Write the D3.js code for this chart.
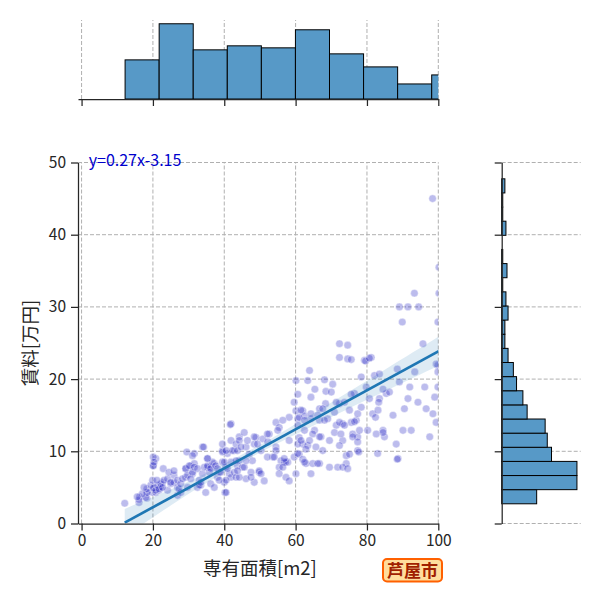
<!DOCTYPE html>
<html lang="ja">
<head>
<meta charset="UTF-8">
<title>芦屋市 専有面積と賃料</title>
<script src="https://cdnjs.cloudflare.com/ajax/libs/d3/7.8.5/d3.min.js"></script>
<style>
    body { margin: 0; background: #fff; }
    svg { font-family: "Noto Sans CJK JP", "Noto Sans", sans-serif; }
</style>
</head>
<body>
<svg width="600" height="600"></svg>
<script>
    // ---- data ----
    const xTicks = [0, 20, 40, 60, 80, 100];
    const yTicks = [0, 10, 20, 30, 40, 50];

    // marginal histogram of 専有面積 (counts per bin)
    const areaEdges = [12.2, 21.75, 31.3, 40.85, 50.4, 59.95, 69.5, 79.05, 88.6, 98.15, 107.7];
    const areaCounts = [39, 75, 49, 53, 51, 69, 45, 32, 15, 24];

    // marginal histogram of 賃料, bins bottom -> top
    const rentStart = 2.73, rentWidth = 1.957;
    const rentCounts = [33, 71, 71, 47, 43, 41, 24, 20, 14, 11, 6, 3, 3, 6, 4, 1, 5, 1, 0, 4, 1, 1, 3];

    // regression y = 0.27x - 3.15 and its confidence band half width
    const slope = 0.27, intercept = -3.15;
    const fitRange = [12.1, 107.7];
    const bandX = [12.1, 25, 35, 45, 55, 70, 85, 100, 107.7];
    const bandHalf = [1.9, 1.1, 0.7, 0.55, 0.6, 1.0, 1.5, 2.0, 2.3];

    // [専有面積, 賃料]
    const points = [
        [12.1,2.8],[16.1,2.9],[16.3,3.7],[18.3,3.5],[18.3,4.3],[19.9,4.3],[20.3,5.0],[20.8,4.3],[21.7,4.6],[22.2,5.0],
        [22.7,5.7],[20.1,8.0],[20.8,9.0],[24.1,4.6],[25.0,5.5],[25.9,5.7],[26.9,5.0],[26.9,3.9],[27.8,4.3],[29.2,6.4],
        [29.2,7.6],[29.7,5.0],[30.6,8.0],[31.1,6.9],[31.6,8.3],[31.6,9.7],[32.5,5.0],[33.0,6.0],[33.4,5.3],[33.9,10.6],
        [34.8,4.3],[35.3,7.8],[35.3,9.0],[36.2,7.8],[36.2,5.5],[37.2,8.3],[38.1,6.4],[38.6,7.1],[39.5,8.5],[40.0,5.7],
        [40.2,4.3],[39.5,10.1],[40.4,7.8],[40.9,9.7],[41.4,6.9],[41.9,13.8],[41.9,6.4],[42.8,10.1],
        [16.1,3.3],[18.0,3.6],[18.4,4.3],[18.3,4.8],[19.4,5.3],[20.1,4.9],[20.8,4.6],[21.3,5.3],[21.7,4.8],[22.2,5.5],
        [22.7,5.0],[23.1,6.0],[24.1,6.2],[25.0,5.7],[25.9,6.7],[26.9,6.0],[27.3,4.8],[27.8,5.5],[28.3,6.2],[29.2,7.6],
        [29.7,6.7],[30.6,6.2],[30.2,8.0],[31.1,7.1],[31.6,7.8],[32.5,7.6],[33.0,5.3],[33.4,5.7],[33.9,6.9],[34.4,7.8],
        [35.3,8.0],[35.8,7.1],[36.2,7.6],[36.7,8.5],[37.2,5.0],[37.6,8.0],[38.1,7.6],[38.6,6.0],[39.0,7.1],[40.0,8.5],
        [40.5,6.0],[40.5,4.3],[40.9,7.6],[41.9,8.5],[42.8,7.1],[43.7,8.0],[44.2,8.7],[20.1,9.2],[20.1,8.0],[20.3,8.5],
        [22.9,7.6],[24.5,7.1],[25.9,7.3],[29.5,9.9],[31.1,9.4],[34.2,10.6],[35.3,9.0],[39.5,11.0],[39.5,9.9],[40.5,10.1],
        [41.9,11.5],[41.7,13.7],[42.3,10.1],[43.3,11.0],[44.2,12.0],[17.0,4.1],[15.6,3.7],[19.9,6.0],[21.1,6.0],[17.5,5.0],
        [63.9,21.2],[60.1,19.8],[63.4,19.8],[68.1,19.9],[70.4,19.3],[60.6,17.9],[65.4,18.6],[68.5,18.3],[64.3,17.5],[70.0,18.2],
        [72.3,16.6],[59.6,16.8],[60.1,15.6],[62.0,15.6],[66.7,15.9],[68.4,16.6],[70.9,15.4],[71.4,16.8],[58.2,14.7],[60.6,14.5],
        [62.5,14.9],[64.3,14.5],[66.7,14.3],[69.0,14.5],[71.4,13.6],[73.2,13.8],[54.5,14.0],[56.4,14.3],[55.4,13.3],[60.6,13.6],
        [62.5,12.9],[65.3,12.9],[67.1,12.0],[70.9,12.6],[73.2,11.5],[52.6,12.4],[50.8,11.7],[48.9,11.9],[45.6,12.6],[48.4,11.0],
        [52.2,11.3],[54.5,10.6],[58.2,11.5],[61.0,11.9],[62.0,11.0],[63.4,10.8],[65.7,10.6],[67.6,10.1],[44.2,11.5],[46.1,10.6],
        [43.7,10.1],[47.0,9.6],[50.3,10.1],[53.6,9.2],[54.5,10.1],[55.9,8.7],[57.8,8.5],[59.6,9.2],[61.0,9.6],[62.9,8.3],
        [64.8,8.3],[66.7,8.3],[69.5,7.8],[71.8,7.8],[74.2,8.3],[43.3,8.7],[45.1,7.8],[47.5,7.1],[49.8,7.1],[55.4,7.8],
        [55.4,6.9],[57.3,6.4],[56.8,8.5],[58.2,5.9],[60.1,6.9],[62.0,8.9],[62.5,8.5],[64.3,6.9],[43.3,6.4],[46.1,6.2],
        [48.4,5.7],[51.2,5.9],
        [61.5,15.7],[61.0,14.7],[62.5,14.3],[64.3,15.2],[66.2,15.0],[67.6,15.9],[68.1,14.3],[64.8,12.4],[66.7,12.0],[69.5,11.5],
        [57.3,8.5],[56.8,9.0],[56.4,7.8],[52.1,12.4],[52.1,9.2],[54.0,9.2],[55.0,12.9],[49.3,11.0],[48.4,12.0],[46.5,11.5],
        [44.7,10.6],[45.6,7.8],[47.9,8.7],[49.8,7.3],[50.3,6.9],[47.5,6.4],[44.2,6.4],[43.7,7.3],[46.1,8.7],[60.6,9.7],
        [60.6,11.0],[61.5,11.5],[62.9,10.3],[63.9,11.5],[66.2,8.3],
        [72.3,24.9],[72.3,23.0],
        [72.7,12.4],[73.2,7.8],[73.7,16.8],[74.2,9.4],[74.6,24.7],[74.6,22.8],[74.6,7.6],[75.1,15.7],[75.6,14.0],[76.0,12.4],
        [76.5,18.0],[77.0,14.3],[77.4,10.1],[77.4,12.0],[77.9,12.9],[78.4,16.1],[78.4,20.3],[79.3,22.6],[79.8,18.9],[80.2,12.9],
        [80.7,17.3],[81.2,23.0],[81.6,15.2],[82.1,20.5],[82.6,12.4],[83.0,9.7],[83.5,17.3],[83.5,20.7],[84.5,12.9],[84.9,12.0],
        [85.4,18.0],[86.3,18.2],[87.3,15.0],[88.2,11.0],[88.7,9.0],[89.1,19.6],[90.1,12.9],[90.5,15.9],[92.0,18.9],[92.4,12.9],
        [93.4,21.0],[95.7,24.9],[96.2,18.9],[96.6,15.9],[97.6,12.0],[98.5,15.2],[99.0,17.5],[99.4,14.0],[99.9,21.9],[99.9,18.9],
        [99.9,21.0],[94.3,16.8],
        [98.4,45.0],[100.2,35.5],[93.3,31.9],[89.1,30.0],[91.5,30.0],[94.5,30.0],[89.9,27.9],[99.9,27.9],[100.2,31.9],
        [75.6,22.7],[79.6,22.5],[80.7,22.9],[88.5,21.4],[99.4,22.1],[84.5,18.6],[75.6,17.9],[91.5,17.3],[77.4,15.2],[82.4,14.7],
        [83.1,15.7],[72.3,14.0],[73.7,13.6],[76.5,14.1],[84.5,12.6],[76.0,12.0],[77.4,11.3],[72.3,10.8],[75.1,9.6],[77.7,9.9],
        [88.5,8.9],[83.3,16.8]
    ];

    // ---- layout ----
    const svg = d3.select("svg");
    const ink = "#262626";
    const barFill = "#5799c7";
    const lineColor = "#1f77b4";
    const tickFont = 15.5;

    const x = d3.scaleLinear().domain([-1, 100]).range([78, 438.3]);
    const y = d3.scaleLinear().domain([0, 50]).range([523.5, 162.5]);
    const topY = d3.scaleLinear().domain([0, d3.max(areaCounts) * 1.05]).range([99, 20]);
    const rightX = d3.scaleLinear().domain([0, d3.max(rentCounts) * 1.05]).range([501.7, 580.7]);

    const defs = svg.append("defs");
    defs.append("clipPath").attr("id", "clipMain").append("rect")
        .attr("x", x.range()[0]).attr("y", y.range()[1])
        .attr("width", x.range()[1] - x.range()[0]).attr("height", y.range()[0] - y.range()[1]);
    defs.append("clipPath").attr("id", "clipTop").append("rect")
        .attr("x", x.range()[0]).attr("y", topY.range()[1])
        .attr("width", x.range()[1] - x.range()[0]).attr("height", topY.range()[0] - topY.range()[1]);

    function dashed(sel) {
        return sel.attr("stroke", "#b0b0b0").attr("stroke-width", 1).attr("stroke-dasharray", "4,2");
    }

    // ---- grids ----
    dashed(svg.append("g").selectAll("line").data(xTicks).join("line")
        .attr("x1", d => x(d)).attr("x2", d => x(d))
        .attr("y1", y.range()[0]).attr("y2", y.range()[1]));
    dashed(svg.append("g").selectAll("line").data(yTicks.slice(1)).join("line")
        .attr("x1", x.range()[0]).attr("x2", x.range()[1])
        .attr("y1", d => y(d)).attr("y2", d => y(d)));
    dashed(svg.append("g").selectAll("line").data(xTicks).join("line")
        .attr("x1", d => x(d)).attr("x2", d => x(d))
        .attr("y1", topY.range()[0]).attr("y2", topY.range()[1]));
    dashed(svg.append("g").selectAll("line").data(yTicks).join("line")
        .attr("x1", rightX.range()[0]).attr("x2", rightX.range()[1])
        .attr("y1", d => y(d)).attr("y2", d => y(d)));

    // ---- scatter + regression ----
    const main = svg.append("g").attr("clip-path", "url(#clipMain)");

    main.append("g").selectAll("circle").data(points).join("circle")
        .attr("cx", d => x(d[0])).attr("cy", d => y(d[1])).attr("r", 3.8)
        .attr("fill", "#2020c4").attr("fill-opacity", 0.3)
        .attr("stroke", "#fff").attr("stroke-opacity", 0.4).attr("stroke-width", 1);

    const band = bandX.map((v, i) => ({ x: v, lo: slope * v + intercept - bandHalf[i], hi: slope * v + intercept + bandHalf[i] }));
    main.append("path").datum(band)
        .attr("d", d3.area().curve(d3.curveNatural).x(d => x(d.x)).y0(d => y(d.lo)).y1(d => y(d.hi)))
        .attr("fill", lineColor).attr("fill-opacity", 0.15);

    main.append("path").datum(fitRange)
        .attr("d", d3.line().x(d => x(d)).y(d => y(slope * d + intercept)))
        .attr("stroke", lineColor).attr("stroke-width", 2.7).attr("fill", "none");

    // ---- marginal histograms ----
    svg.append("g").attr("clip-path", "url(#clipTop)")
        .selectAll("rect").data(areaCounts).join("rect")
        .attr("x", (d, i) => x(areaEdges[i]))
        .attr("width", (d, i) => x(areaEdges[i + 1]) - x(areaEdges[i]))
        .attr("y", d => topY(d)).attr("height", d => topY(0) - topY(d))
        .attr("fill", barFill).attr("stroke", "#000").attr("stroke-width", 1);

    svg.append("g")
        .selectAll("rect").data(rentCounts).join("rect")
        .attr("x", rightX(0))
        .attr("y", (d, i) => y(rentStart + (i + 1) * rentWidth))
        .attr("height", (d, i) => y(rentStart + i * rentWidth) - y(rentStart + (i + 1) * rentWidth))
        .attr("width", d => rightX(d) - rightX(0))
        .attr("fill", barFill).attr("stroke", "#000").attr("stroke-width", 1)
        .attr("display", d => d > 0 ? null : "none");

    // ---- axes ----
    function styleAxis(g) {
        g.selectAll(".domain").attr("stroke", ink).attr("stroke-width", 1.25);
        g.selectAll(".tick line").attr("stroke", ink).attr("stroke-width", 1.25);
        g.selectAll(".tick text").attr("fill", ink).attr("font-size", tickFont)
            .attr("font-family", "'Noto Sans CJK JP', 'Noto Sans', sans-serif");
    }

    svg.append("g").attr("transform", `translate(0,${y.range()[0]})`)
        .call(d3.axisBottom(x).tickValues(xTicks).tickSize(7).tickSizeOuter(0).tickPadding(4))
        .call(styleAxis);
    svg.append("g").attr("transform", `translate(${x.range()[0]},0)`)
        .call(d3.axisLeft(y).tickValues(yTicks).tickSize(7).tickSizeOuter(0).tickPadding(5))
        .call(styleAxis);
    svg.append("g").attr("transform", `translate(0,${topY.range()[0]})`)
        .call(d3.axisBottom(x).tickValues(xTicks).tickFormat("").tickSize(7).tickSizeOuter(0))
        .call(styleAxis);
    svg.append("g").attr("transform", `translate(${rightX.range()[0]},0)`)
        .call(d3.axisLeft(y).tickValues(yTicks).tickFormat("").tickSize(7).tickSizeOuter(0))
        .call(styleAxis);

    // ---- texts ----
    svg.append("text")
        .attr("x", x(2)).attr("y", y(50) + 3)
        .attr("fill", "#0000cd").attr("font-size", 16)
        .text(`y=${slope}x${intercept}`);

    svg.append("text")
        .attr("x", (x(0) + x(100)) / 2).attr("y", 575)
        .attr("text-anchor", "middle").attr("font-size", 18.5).attr("fill", ink)
        .text("専有面積[m2]");

    svg.append("text")
        .attr("transform", `translate(29,${(y(0) + y(50)) / 2}) rotate(-90)`)
        .attr("text-anchor", "middle").attr("dominant-baseline", "central")
        .attr("font-size", 18.5).attr("fill", ink)
        .text("賃料[万円]");

    const tag = svg.append("g").attr("transform", "translate(383,559)");
    tag.append("rect").attr("width", 59).attr("height", 22.5).attr("rx", 4)
        .attr("fill", "#ffdd9c").attr("stroke", "#ff6000").attr("stroke-width", 2);
    tag.append("text").attr("x", 29.5).attr("y", 17.8)
        .attr("text-anchor", "middle").attr("font-size", 17).attr("font-weight", "bold")
        .attr("fill", "#a02000").text("芦屋市");
</script>
</body>
</html>
